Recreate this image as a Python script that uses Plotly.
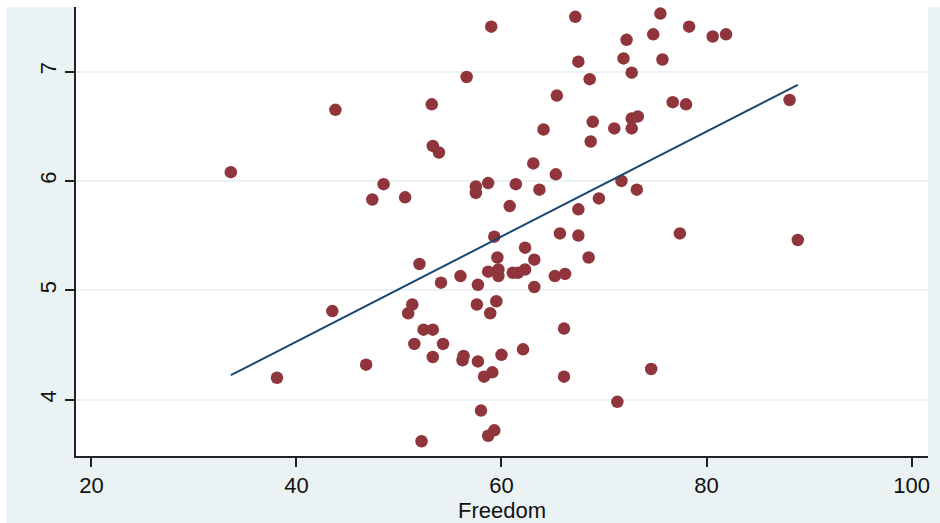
import numpy as np
import plotly.graph_objects as go

freedom = [33.6, 38.1, 43.8, 43.5, 46.8, 47.4, 48.5, 50.6, 50.9, 51.3,
           51.5, 52.0, 52.2, 52.4, 53.2, 53.3, 53.9, 53.3, 53.3, 54.1,
           54.3, 56.0, 56.2, 56.3, 56.6, 57.5, 57.5, 57.6, 57.7, 57.7,
           58.0, 58.3, 58.7, 58.7, 58.9, 59.0, 58.7, 59.1, 59.3, 59.3,
           59.6, 59.7, 59.7, 59.5, 60.0, 60.8, 61.1, 61.4, 61.6, 62.1,
           62.3, 62.3, 63.1, 63.2, 63.2, 63.7, 64.1, 65.2, 65.3, 65.4,
           65.7, 66.1, 66.1, 66.2, 67.2, 67.5, 67.5, 67.5, 68.5, 68.6,
           68.7, 68.9, 69.5, 71.0, 71.3, 71.7, 71.9, 72.2, 72.7, 72.7,
           72.7, 73.3, 73.2, 74.6, 74.8, 75.5, 75.7, 76.7, 77.4, 78.0,
           78.3, 80.6, 81.9, 88.1, 88.9]
happiness = [6.08, 4.20, 6.65, 4.81, 4.32, 5.83, 5.97, 5.85, 4.79, 4.87,
             4.51, 5.24, 3.62, 4.64, 6.70, 6.32, 6.26, 4.64, 4.39, 5.07,
             4.51, 5.13, 4.36, 4.40, 6.95, 5.95, 5.89, 4.87, 5.05, 4.35,
             3.90, 4.21, 5.98, 5.17, 4.79, 7.41, 3.67, 4.25, 5.49, 3.72,
             5.30, 5.19, 5.13, 4.90, 4.41, 5.77, 5.16, 5.97, 5.16, 4.46,
             5.39, 5.19, 6.16, 5.03, 5.28, 5.92, 6.47, 5.13, 6.06, 6.78,
             5.52, 4.65, 4.21, 5.15, 7.50, 7.09, 5.74, 5.50, 5.30, 6.93,
             6.36, 6.54, 5.84, 6.48, 3.98, 6.00, 7.12, 7.29, 6.99, 6.57,
             6.48, 6.59, 5.92, 4.28, 7.34, 7.53, 7.11, 6.72, 5.52, 6.70,
             7.41, 7.32, 7.34, 6.74, 5.46]

x_ticks = [20, 40, 60, 80, 100]
y_ticks = [4, 5, 6, 7]

BG = "#EAF2F3"
MAROON = "#90353B"
NAVY = "#1A476F"

xa = np.array(freedom)
ya = np.array(happiness)
slope, intercept = np.polyfit(xa, ya, 1)
fit_x = np.array([xa.min(), xa.max()])
fit_y = intercept + slope * fit_x

fig = go.Figure()
fig.add_trace(go.Scatter(x=freedom, y=happiness, mode="markers",
                         marker=dict(color=MAROON, size=12.5, line=dict(width=0)),
                         showlegend=False, hoverinfo="x+y"))
fig.add_trace(go.Scatter(x=fit_x, y=fit_y, mode="lines",
                         line=dict(color=NAVY, width=2),
                         showlegend=False))

L, R, T, B = 76, 12, 7, 67
W, H = 940, 523
pw = W - L - R
ph = H - T - B

def px_x(p):
    return (p - L) / pw

def px_y(p):
    return (H - B - p) / ph

# white outer strips (left and top)
fig.add_shape(type="rect", xref="paper", yref="paper",
              x0=px_x(0), x1=px_x(6), y0=px_y(H), y1=px_y(0),
              fillcolor="white", line=dict(width=0), layer="below")
fig.add_shape(type="rect", xref="paper", yref="paper",
              x0=px_x(0), x1=px_x(W), y0=px_y(7), y1=px_y(0),
              fillcolor="white", line=dict(width=0), layer="below")

font = dict(family="Liberation Sans, Arial, Helvetica, sans-serif", size=22, color="#111")

fig.update_layout(
    width=W, height=H,
    margin=dict(l=L, r=R, t=T, b=B, autoexpand=False),
    paper_bgcolor=BG, plot_bgcolor="white",
    font=font,
    xaxis=dict(range=[18.5, 101.6], tickvals=x_ticks, ticktext=[str(v) for v in x_ticks],
               showgrid=False, zeroline=False, automargin=False,
               showline=True, linecolor="#222", linewidth=1.5,
               ticks="outside", ticklen=9, tickwidth=1.5, tickcolor="#222",
               title=dict(text="Freedom", font=font, standoff=0)),
    yaxis=dict(range=[3.485, 7.59], tickvals=y_ticks, ticktext=[str(v) for v in y_ticks],
               showgrid=True, gridcolor=BG, gridwidth=2, zeroline=False, automargin=False,
               showline=True, linecolor="#222", linewidth=1.5,
               ticks="outside", ticklen=9, tickwidth=1.5, tickcolor="#222",
               tickangle=-90),
)

fig.write_html("out.html", config={"displayModeBar": False},
               post_script="document.body.style.margin='0';document.body.style.padding='0';")
